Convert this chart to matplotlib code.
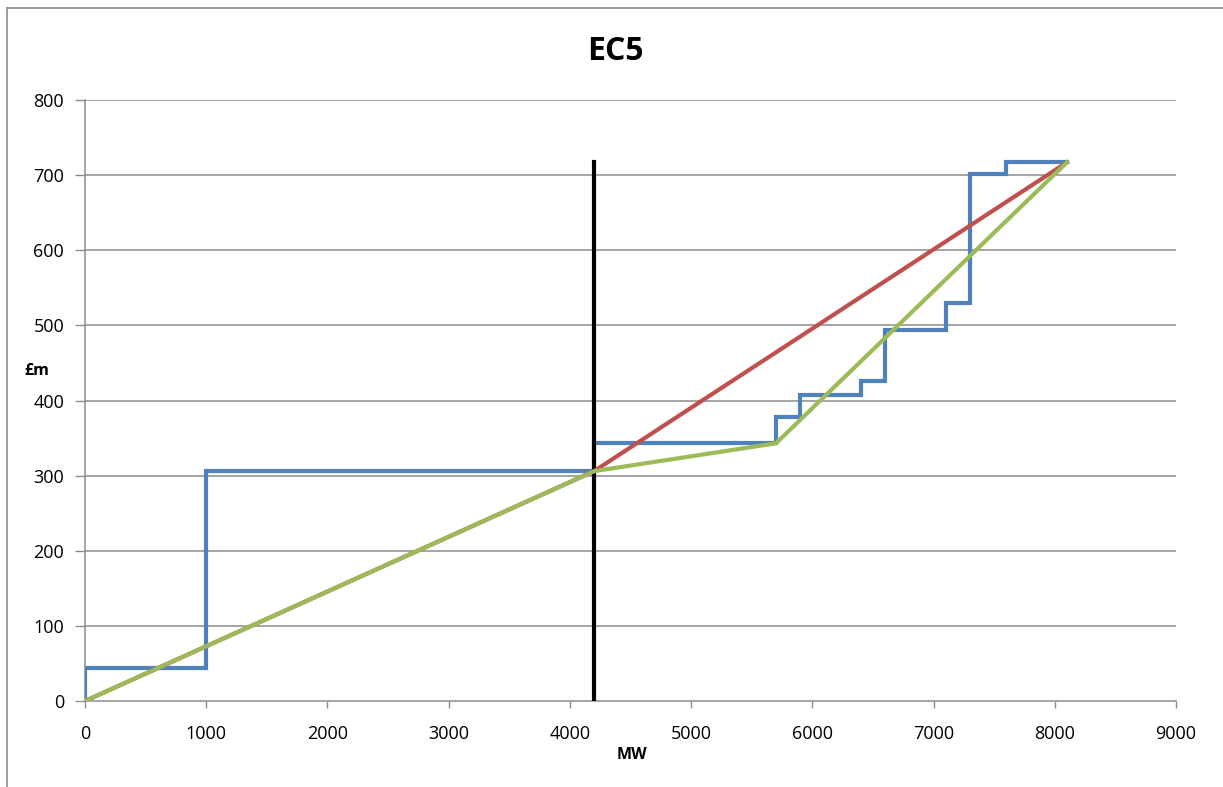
import matplotlib
matplotlib.use("Agg")
import matplotlib.pyplot as plt
from matplotlib.lines import Line2D

# step supply curve (steps-post vertices)
blue_x = [0, 0, 1000, 4200, 5700, 5900, 6400, 6600, 7100, 7300, 7600, 8100]
blue_y = [0, 44, 306, 343, 378, 407, 426, 494, 530, 702, 717, 717]

red_x = [0, 4200, 8100]
red_y = [0, 306, 717]

green_x = [0, 4200, 5700, 8100]
green_y = [0, 306, 343, 717]

marker_x = [4200, 4200]
marker_y = [0, 717]

x_ticks = list(range(0, 9001, 1000))
y_ticks = list(range(0, 801, 100))

plt.rcParams["font.family"] = ["Open Sans", "DejaVu Sans"]

fig = plt.figure(figsize=(12.23, 7.87), dpi=100)
ax = fig.add_axes([85 / 1223, 1 - 701 / 787, (1176 - 85) / 1223, (701 - 100) / 787])

grid_col = "#8c8c8c"
for yv in y_ticks[1:]:
    ax.axhline(yv, color=grid_col, lw=1.1, zorder=1)

ax.plot(blue_x, blue_y, drawstyle="steps-post", color="#4F81BD", lw=3, zorder=3,
        solid_joinstyle="miter")
ax.plot(marker_x, marker_y, color="black", lw=3, zorder=4)
ax.plot(red_x, red_y, color="#C0504D", lw=3, zorder=5)
ax.plot(green_x, green_y, color="#9BBB59", lw=3, zorder=6)

ax.set_xlim(0, 9000)
ax.set_ylim(0, 800)
ax.set_xticks(x_ticks)
ax.set_yticks(y_ticks)
ax.tick_params(axis="y", length=7, width=1, color=grid_col, labelsize=13, pad=8)
ax.tick_params(axis="x", length=5, width=1, color=grid_col, labelsize=13, pad=12)

for side in ("top", "right"):
    ax.spines[side].set_visible(False)
for side in ("left", "bottom"):
    ax.spines[side].set_color(grid_col)
    ax.spines[side].set_linewidth(1.1)

fig.text(615 / 1223, 1 - 52 / 787, "EC5", ha="center", va="center",
         fontsize=23, fontweight="bold")
fig.text(37 / 1223, 1 - 371 / 787, "£m", ha="center", va="center",
         fontsize=11.5, fontweight="bold")
fig.text(632 / 1223, 1 - 755 / 787, "MW", ha="center", va="center",
         fontsize=11.5, fontweight="bold")

# outer chart-area border (top and left visible)
fig.add_artist(Line2D([7 / 1223, 7 / 1223], [0, 1 - 8 / 787], color="#8c8c8c", lw=1.2,
                      transform=fig.transFigure))
fig.add_artist(Line2D([7 / 1223, 1], [1 - 8 / 787, 1 - 8 / 787], color="#8c8c8c", lw=1.2,
                      transform=fig.transFigure))

fig.savefig("out.png", dpi=100)
